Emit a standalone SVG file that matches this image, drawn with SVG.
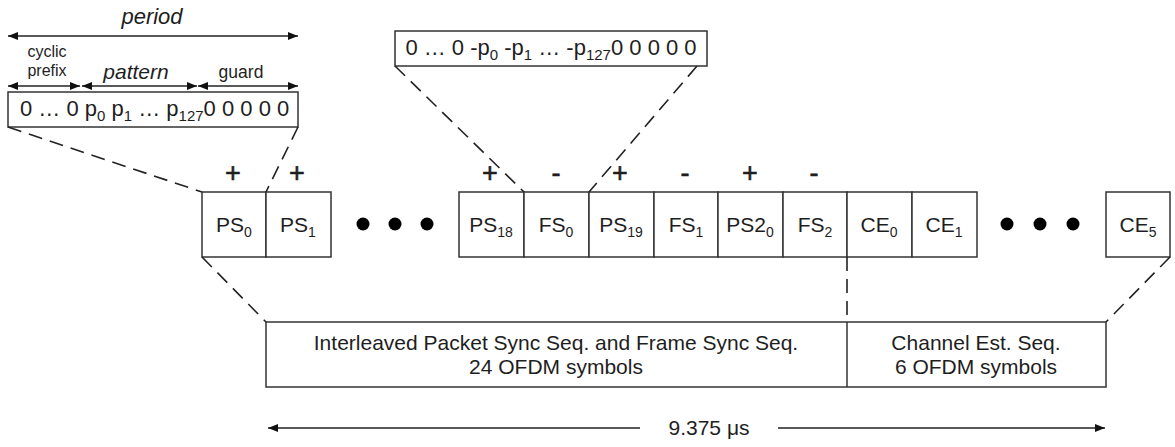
<svg xmlns="http://www.w3.org/2000/svg" width="1175" height="447" viewBox="0 0 1175 447">
  <style>
    text { font-family: "Liberation Sans", Arial, sans-serif; fill: #1e1e1e; }
    .lbl { font-size: 21px; text-anchor: middle; }
    .sign { font-size: 27px; text-anchor: middle; stroke: #1e1e1e; stroke-width: 0.6; }
    .box { fill: #fff; stroke: #333; stroke-width: 1.5; }
    .dash { fill: none; stroke: #222; stroke-width: 1.6; stroke-dasharray: 14 8; }
    .arr { fill: none; stroke: #222; stroke-width: 1.4; marker-start: url(#ah); marker-end: url(#ah); }
    .dot { fill: #000; }
  </style>
  <defs>
    <marker id="ah" viewBox="0 0 10 8" refX="10" refY="4" markerWidth="10" markerHeight="8" markerUnits="userSpaceOnUse" orient="auto-start-reverse">
      <path d="M0,0 L10,4 L0,8 Z" fill="#111"/>
    </marker>
  </defs>

  <!-- OFDM symbol structure: one period -->
  <g id="period-detail">
    <text x="152" y="24" font-size="22" font-style="italic" text-anchor="middle">period</text>
    <line class="arr" x1="8" y1="36" x2="298" y2="36"/>
    <text x="47" y="57" font-size="16" text-anchor="middle">cyclic</text>
    <text x="47" y="76" font-size="16" text-anchor="middle">prefix</text>
    <text x="136" y="79" font-size="21" font-style="italic" text-anchor="middle">pattern</text>
    <text x="241" y="78" font-size="17.5" text-anchor="middle">guard</text>
    <line class="arr" x1="8" y1="86" x2="80" y2="86"/>
    <line class="arr" x1="82" y1="86" x2="197" y2="86"/>
    <line class="arr" x1="198" y1="86" x2="298" y2="86"/>
    <rect class="box" x="8" y="92" width="290" height="35"/>
    <text x="20" y="116" font-size="22">0 … 0 p<tspan font-size="15" dy="5">0</tspan><tspan dy="-5"> p</tspan><tspan font-size="15" dy="5">1</tspan><tspan dy="-5"> … p</tspan><tspan font-size="15" dy="5">127</tspan><tspan dy="-5">0 0 0 0 0</tspan></text>
  </g>

  <!-- inverted period used by the frame sync symbols -->
  <g id="inverted-detail">
    <rect class="box" x="395" y="31" width="312" height="35"/>
    <text x="551" y="55" font-size="22" text-anchor="middle">0 … 0 -p<tspan font-size="15" dy="5">0</tspan><tspan dy="-5"> -p</tspan><tspan font-size="15" dy="5">1</tspan><tspan dy="-5"> … -p</tspan><tspan font-size="15" dy="5">127</tspan><tspan dy="-5">0 0 0 0 0</tspan></text>
  </g>

  <!-- polarity of each sync symbol -->
  <g id="signs">
    <text class="sign" x="233" y="182">+</text>
    <text class="sign" x="297" y="182">+</text>
    <text class="sign" x="490" y="182">+</text>
    <text class="sign" x="556" y="182">-</text>
    <text class="sign" x="620" y="182">+</text>
    <text class="sign" x="685" y="182">-</text>
    <text class="sign" x="750" y="182">+</text>
    <text class="sign" x="814" y="182">-</text>
  </g>

  <!-- preamble symbols -->
  <g id="PS0"><rect class="box" x="202" y="192" width="64" height="65"/><text class="lbl" x="234" y="232">PS<tspan font-size="14" dy="5">0</tspan></text></g>
  <g id="PS1"><rect class="box" x="266" y="192" width="65" height="65"/><text class="lbl" x="298" y="232">PS<tspan font-size="14" dy="5">1</tspan></text></g>
  <g id="dots-left">
    <circle class="dot" cx="363" cy="224" r="6.5"/>
    <circle class="dot" cx="395" cy="224" r="6.5"/>
    <circle class="dot" cx="427" cy="224" r="6.5"/>
  </g>
  <g id="PS18"><rect class="box" x="459" y="192" width="65" height="65"/><text class="lbl" x="491" y="232">PS<tspan font-size="14" dy="5">18</tspan></text></g>
  <g id="FS0"><rect class="box" x="524" y="192" width="65" height="65"/><text class="lbl" x="556" y="232">FS<tspan font-size="14" dy="5">0</tspan></text></g>
  <g id="PS19"><rect class="box" x="589" y="192" width="65" height="65"/><text class="lbl" x="621" y="232">PS<tspan font-size="14" dy="5">19</tspan></text></g>
  <g id="FS1"><rect class="box" x="654" y="192" width="64" height="65"/><text class="lbl" x="686" y="232">FS<tspan font-size="14" dy="5">1</tspan></text></g>
  <g id="PS20"><rect class="box" x="718" y="192" width="65" height="65"/><text class="lbl" x="750" y="232">PS2<tspan font-size="14" dy="5">0</tspan></text></g>
  <g id="FS2"><rect class="box" x="783" y="192" width="64" height="65"/><text class="lbl" x="815" y="232">FS<tspan font-size="14" dy="5">2</tspan></text></g>
  <g id="CE0"><rect class="box" x="847" y="192" width="65" height="65"/><text class="lbl" x="879" y="232">CE<tspan font-size="14" dy="5">0</tspan></text></g>
  <g id="CE1"><rect class="box" x="912" y="192" width="65" height="65"/><text class="lbl" x="944" y="232">CE<tspan font-size="14" dy="5">1</tspan></text></g>
  <g id="dots-right">
    <circle class="dot" cx="1007" cy="224" r="6.5"/>
    <circle class="dot" cx="1040" cy="224" r="6.5"/>
    <circle class="dot" cx="1073" cy="224" r="6.5"/>
  </g>
  <g id="CE5"><rect class="box" x="1106" y="192" width="64" height="65"/><text class="lbl" x="1138" y="232">CE<tspan font-size="14" dy="5">5</tspan></text></g>

  <!-- sequence summary -->
  <g id="summary">
    <rect class="box" x="266" y="322" width="840" height="65"/>
    <line x1="847" y1="322" x2="847" y2="387" stroke="#333" stroke-width="1.5"/>
    <text class="lbl" x="556" y="350" font-size="22">Interleaved Packet Sync Seq. and Frame Sync Seq.</text>
    <text class="lbl" x="556" y="374" font-size="22">24 OFDM symbols</text>
    <text class="lbl" x="976" y="350" font-size="22">Channel Est. Seq.</text>
    <text class="lbl" x="976" y="374" font-size="22">6 OFDM symbols</text>
  </g>

  <!-- expansion lines and duration -->
  <g id="connectors">
    <line class="dash" x1="8" y1="127" x2="202" y2="192"/>
    <line class="dash" x1="298" y1="127" x2="266" y2="192"/>
    <line class="dash" x1="395" y1="66" x2="524" y2="192"/>
    <line class="dash" x1="697" y1="66" x2="589" y2="192"/>
    <line class="dash" x1="202" y1="257" x2="266" y2="322"/>
    <line class="dash" x1="1170" y1="257" x2="1106" y2="322"/>
    <line class="dash" x1="847" y1="257" x2="847" y2="322" stroke-dasharray="16 6"/>
    <line x1="268" y1="428" x2="640" y2="428" stroke="#222" stroke-width="1.4" marker-start="url(#ah)"/>
    <line x1="778" y1="428" x2="1105" y2="428" stroke="#222" stroke-width="1.4" marker-end="url(#ah)"/>
    <text class="lbl" x="709" y="435" font-size="21">9.375 μs</text>
  </g>
</svg>
